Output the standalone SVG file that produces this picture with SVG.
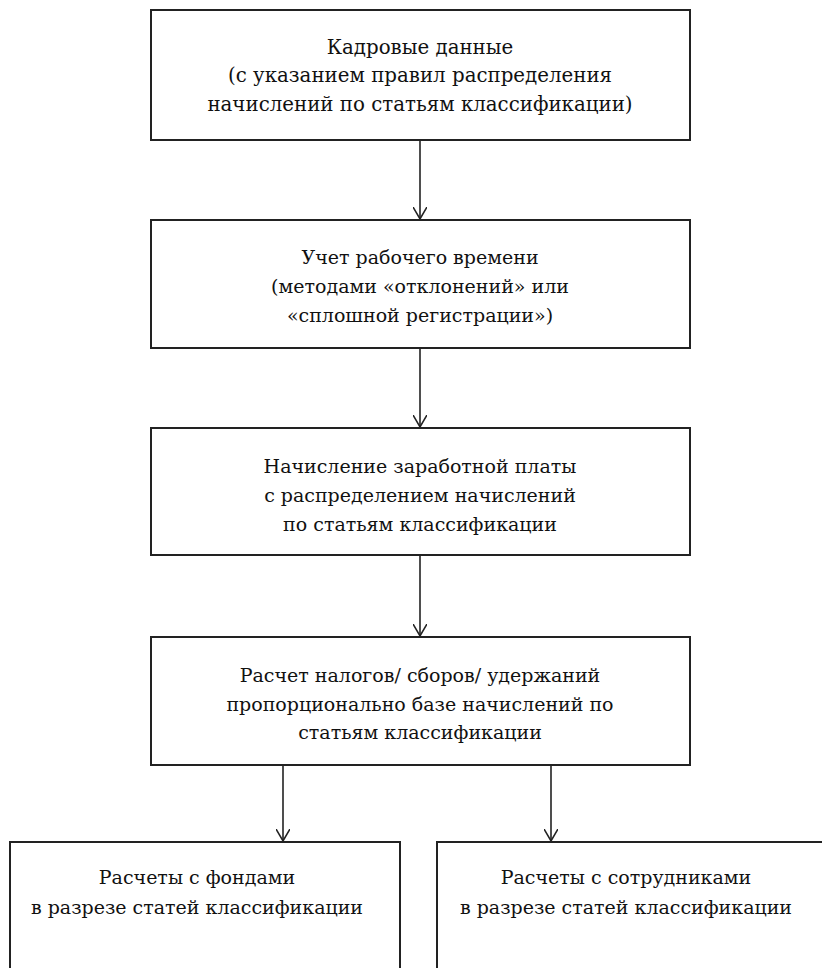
<svg xmlns="http://www.w3.org/2000/svg" width="822" height="968" viewBox="0 0 822 968">
<style>
.box{fill:#fff;stroke:#222;stroke-width:2}
.t{font-family:"DejaVu Serif","Liberation Serif",serif;font-size:19px;fill:#111;text-anchor:middle}
.big{font-size:19.8px}
.c{stroke:#222;stroke-width:1.6;fill:none}
</style>
<defs>
<marker id="a" markerWidth="14" markerHeight="14" refX="12" refY="7" orient="auto" markerUnits="userSpaceOnUse">
<path d="M0,0 L12,7 L0,14" fill="none" stroke="#222" stroke-width="1.6"/>
</marker>
</defs>
<rect width="822" height="968" fill="#fff"/>
<g id="connectors">
<line class="c" x1="420" y1="140" x2="420" y2="219" marker-end="url(#a)"/>
<line class="c" x1="420" y1="348" x2="420" y2="427" marker-end="url(#a)"/>
<line class="c" x1="420" y1="555" x2="420" y2="636" marker-end="url(#a)"/>
<line class="c" x1="283" y1="765" x2="283" y2="841" marker-end="url(#a)"/>
<line class="c" x1="551" y1="765" x2="551" y2="841" marker-end="url(#a)"/>
</g>
<g id="n1">
<rect class="box" x="151" y="10" width="539" height="130"/>
<text class="t big" x="420" y="54">Кадровые данные</text>
<text class="t big" x="420" y="82">(с указанием правил распределения</text>
<text class="t big" x="420" y="111">начислений по статьям классификации)</text>
</g>
<g id="n2">
<rect class="box" x="151" y="220" width="539" height="128"/>
<text class="t" x="420" y="264">Учет рабочего времени</text>
<text class="t" x="420" y="293">(методами «отклонений» или</text>
<text class="t" x="420" y="322">«сплошной регистрации»)</text>
</g>
<g id="n3">
<rect class="box" x="151" y="428" width="539" height="127"/>
<text class="t" x="420" y="473">Начисление заработной платы</text>
<text class="t" x="420" y="502">с распределением начислений</text>
<text class="t" x="420" y="531">по статьям классификации</text>
</g>
<g id="n4">
<rect class="box" x="151" y="637" width="539" height="128"/>
<text class="t" x="420" y="682">Расчет налогов/ сборов/ удержаний</text>
<text class="t" x="420" y="711">пропорционально базе начислений по</text>
<text class="t" x="420" y="739">статьям классификации</text>
</g>
<g id="n5">
<rect class="box" x="10" y="842" width="390" height="140"/>
<text class="t" x="197" y="884">Расчеты с фондами</text>
<text class="t" x="197" y="914">в разрезе статей классификации</text>
</g>
<g id="n6">
<rect class="box" x="437" y="842" width="400" height="140"/>
<text class="t" x="626" y="884">Расчеты с сотрудниками</text>
<text class="t" x="626" y="914">в разрезе статей классификации</text>
</g>
</svg>
